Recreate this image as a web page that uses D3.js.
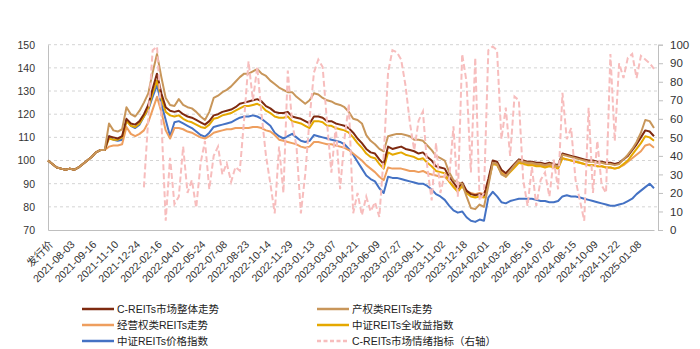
<!DOCTYPE html>
<html><head><meta charset="utf-8">
<script src="https://cdn.jsdelivr.net/npm/d3@7"></script>
<style>
body{margin:0;background:#fff;}
svg{display:block;font-family:"Liberation Sans","Noto Sans CJK SC",Arial,sans-serif;}
</style></head>
<body><svg id="c" width="700" height="349"></svg>
<script>
const xLabels = ["发行价","2021-08-03","2021-09-16","2021-11-10","2021-12-24","2022-02-16","2022-04-01","2022-05-24","2022-07-08","2022-08-23","2022-10-14","2022-11-29","2023-01-13","2023-03-07","2023-04-21","2023-06-09","2023-07-27","2023-09-11","2023-11-02","2023-12-18","2024-02-01","2024-03-26","2024-05-16","2024-07-02","2024-08-15","2024-10-09","2024-11-22","2025-01-08"];
const leftTicks = [70,80,90,100,110,120,130,140,150];
const rightTicks = [0,10,20,30,40,50,60,70,80,90,100];

const overall = [100,98.5,97,96.5,96,96.5,96,97,98.5,100,
101.5,103.5,104.5,104.5,110.5,110,109.5,110.5,118,116,
115.5,117,120,124,131,137.5,129,123,121.5,121,
121.5,120,119,118.5,117.5,116.5,115.5,117,119.5,120,
121,121.5,122,123,124.5,125,125.5,126,126.5,125.5,
123.5,122.5,121,120.5,120.5,121,119,118.5,118,117,
116,119,119,118.5,117,117,116,115.5,115,114,
112,109.5,107.5,105,103.5,103,100.5,98.5,106,105,
105.5,106,105,104.5,104,103,103.5,101.5,100,97.5,
97,96.5,93,90.5,88,90.5,87,85.5,85,85.5,
85,92,100,99.5,96,94.5,96.5,98.5,100.5,100,
99.5,99.5,99,99,98.5,99,98.5,98,103,102.5,
102,101.5,101,100.5,100,100,99.5,99.5,99,99,
98.5,99,100.5,102,104.5,107,110,113,112.5,110.5];

const property = [100,98.5,97,96.5,96,96.5,96,97,98.5,100,
101.5,103.5,104.5,104.5,116,113,112.5,113.5,123,120,
119,121.5,125,129,138,146,136,127,124,123.5,
126.5,124,123,122.5,121,119,117.5,121,127,128,
129.5,130.5,132,134,136,137.5,137.5,138.5,139.5,137.5,
136.5,134.5,133,131.5,130.5,129.5,129.5,127.5,126,124.5,
126,129,128.5,127,126,125.5,124.5,124,123,121,
118,117.5,116,111,108.5,107,105,104,110.5,111,
111.5,111.5,111,110.5,109,109,108.5,106.5,104.5,102,
101,100,95,91.5,90.5,90,84.5,79.5,79,81,
80,89,99,98.5,94,93,95.5,98,100,99.5,
99,99,98.5,98.5,98,98.5,98,97.5,102.5,102,
101.5,101,100.5,100,99.5,99.5,99,99,98.5,98.5,
98,98.5,100.5,102.5,105,108,112,117.5,117,114];

const operating = [100,98.5,97,96.5,96,96.5,96,97,98.5,100,
101.5,103.5,104.5,104.5,106,106.5,106.5,107,114.5,111.5,
110.5,111.5,113,116.5,122,127.5,121,113,109.5,114,
114,113.5,112.5,112,111,110,109.5,110.5,112,112.5,
113,113.5,113.5,114,114,114,114,114.5,114.5,114,
113,112.5,111,109,108.5,108,107.5,107,106,105.5,
106,108,108,107.5,107,107,106.5,106,105.5,104.5,
103,101.5,100,98,96.5,95,93,91.5,97,96.5,
96.5,96.5,96,95.5,95.5,95,95.5,94.5,94,93.5,
93,93,91,89,87,89,86.5,86,85.5,86,
85.5,91,99,98.5,95,93.5,95.5,97.5,99.5,99,
98.5,98.5,98,98,97.5,98,97.5,97,101,100.5,
100,99.5,99,98.5,98,98,97.5,97.5,97,97,
96.5,97,98,99.5,101,102.5,104,106.5,107,105.5];

const totalReturn = [100,98.5,97,96.5,96,96.5,96,97,98.5,100,
101.5,103.5,104.5,104.5,109.5,109,109,110,117,115,
114.5,116,119,122.5,129,134.5,127,121,119.5,119,
119.5,118,117,116.5,115.5,114.5,114,115.5,118,118.5,
119.5,120,120.5,121.5,122.5,123.5,123.5,124,124.5,123.5,
121.5,120.5,119,118.5,118.5,119,117,116.5,116,115,
114,117,117,116.5,115,115,114,113.5,113,112,
110,107.5,105.5,103,101.5,101,98.5,96.5,103.5,102.5,
103,103.5,102.5,102,101.5,100.5,101,99,97.5,95.5,
95,94.5,91,88.5,86.5,89,86,84.5,84,84.5,
84,90.5,98.5,98,94.5,93,95,97,99,98.5,
98,98,97.5,97.5,97,97.5,97,96.5,101,100.5,
100,99.5,99,98.5,98,98,97.5,97.5,97,97,
96.5,97,98.5,100,102.5,105,107.5,110.5,110,108.5];

const priceIndex = [100,98.5,97,96.5,96,96.5,96,97,98.5,100,
101.5,103.5,104.5,104.5,110.5,109,108.5,109,117.5,115,
114,115.5,119,122,127.5,132.5,124.5,117.5,110.5,116.5,
117,116,115,114,112.5,111,110.3,112,114.5,115,
115.5,116,116.5,117.5,118.5,119,119,119.5,119,118,
116.5,115,112,110.5,109.5,110.5,111.5,110,108.5,108,
108.5,111,110.5,110,109.5,109,108.5,108,107,105,
102.5,99.5,96.5,93.5,92,91,88,86,93,92.5,
92.5,92,91.5,91,90.5,90,90,89,87.5,85.5,
84.5,83,80.5,78.5,77.5,78,75.5,74,73.5,74.5,
74,84,86.5,84.5,82,81.5,82.5,83,83.5,83.5,
83.5,83.5,83,82.5,82.5,82,82,82.5,84.5,85,
84.5,84.5,84,83.5,83,82.5,82,81.5,81,80.5,
80.5,81,81.5,82.5,83.5,85.5,87,88.5,90,88];

const sentiment = [null,null,null,null,null,null,null,null,null,null,
null,null,null,null,null,null,null,null,null,null,
null,null,23,60,97,99,60,5,39,14,
18,45,20,27,12,36,48,22,40,45,
30,36,26,34,32,60,91,70,88,62,
40,25,9,45,20,86,58,45,9,30,
60,85,92,88,58,31,56,22,49,68,
9,20,8,18,10,15,7,40,85,97,
96,92,78,58,43,59,64,34,16,47,
20,30,27,56,18,95,80,31,93,16,
20,97,99,97,49,66,40,72,70,27,
13,34,13,27,31,18,38,22,74,49,
55,27,16,5,66,20,48,24,20,95,
48,90,82,93,95,82,94,92,90,87];

const seriesNames = ["C-REITs市场整体走势","产权类REITs走势","经营权类REITs走势","中证REITs全收益指数","中证REITs价格指数","C-REITs市场情绪指标（右轴）"];
const colors = ["#7E2A10","#C8965A","#EE9E5E","#E5A800","#4472C4","#F7BDBD"];

const svg = d3.select("#c");
const L = 48, R = 658, T = 44.7, B = 230;
const n = overall.length;
const x = d3.scaleLinear().domain([0, n - 1]).range([L, 654]);
const yL = d3.scaleLinear().domain([70, 150]).range([B, T]);
const yR = d3.scaleLinear().domain([0, 100]).range([B, T]);

// gridlines
svg.append("g").selectAll("line").data(leftTicks.filter(d => d > 70)).join("line")
  .attr("x1", L).attr("x2", R).attr("y1", d => yL(d)).attr("y2", d => yL(d))
  .attr("stroke", "#d4d4d4").attr("stroke-width", 1).attr("stroke-dasharray", "3,3");

// left axis
const gL = svg.append("g").attr("transform", `translate(${L},0)`)
  .call(d3.axisLeft(yL).tickValues(leftTicks).tickSize(0).tickPadding(13));
gL.select(".domain").attr("stroke", "#bfbfbf");
gL.selectAll("text").attr("font-size", "10.5px").attr("fill", "#333")
  .attr("font-family", "Liberation Sans, Arial, sans-serif");

// right axis
const gR = svg.append("g").attr("transform", `translate(${R},0)`)
  .call(d3.axisRight(yR).tickValues(rightTicks).tickSize(5).tickPadding(7));
gR.select(".domain").attr("stroke", "#bfbfbf");
gR.selectAll(".tick line").attr("stroke", "#bfbfbf");
gR.selectAll("text").attr("font-size", "11.5px").attr("fill", "#333")
  .attr("font-family", "Liberation Sans, Arial, sans-serif");

// bottom axis
const tickIdx = xLabels.map((d, i) => i * 5);
const gB = svg.append("g").attr("transform", `translate(0,${B})`)
  .call(d3.axisBottom(x).tickValues(tickIdx).tickSize(0).tickFormat((d, i) => xLabels[i]));
gB.select(".domain").attr("stroke", "#bfbfbf");
gB.selectAll("text")
  .attr("font-size", "10.5px").attr("fill", "#333")
  .attr("font-family", "Liberation Sans, Noto Sans CJK SC, sans-serif")
  .attr("text-anchor", "end")
  .attr("dy", "0")
  .attr("transform", "translate(3,13) rotate(-45)");

// lines
const lineL = d3.line().x((d, i) => x(i)).y(d => yL(d));
const lineR = d3.line().defined(d => d != null).x((d, i) => x(i)).y(d => yR(d));
const order = [[priceIndex, 4], [operating, 2], [totalReturn, 3], [overall, 0], [property, 1]];
order.forEach(([data, ci]) => {
  svg.append("path").datum(data).attr("d", lineL).attr("fill", "none")
    .attr("stroke", colors[ci]).attr("stroke-width", 2).attr("stroke-linejoin", "round");
});
svg.append("path").datum(sentiment).attr("d", lineR).attr("fill", "none")
  .attr("stroke", colors[5]).attr("stroke-width", 2).attr("stroke-dasharray", "6,3");

// legend
const legendPos = [[82, 309], [317, 309], [82, 325], [317, 325], [82, 341], [317, 341]];
const lg = svg.append("g");
seriesNames.forEach((name, i) => {
  const [lx, ly] = legendPos[i];
  lg.append("line").attr("x1", lx).attr("x2", lx + 32).attr("y1", ly).attr("y2", ly)
    .attr("stroke", colors[i]).attr("stroke-width", 2.5)
    .attr("stroke-dasharray", i === 5 ? "4,2.5" : null);
  lg.append("text").attr("x", lx + 35).attr("y", ly).attr("dy", "0.35em")
    .attr("font-size", "10.5px").attr("fill", "#222").text(name);
});
</script></body></html>
